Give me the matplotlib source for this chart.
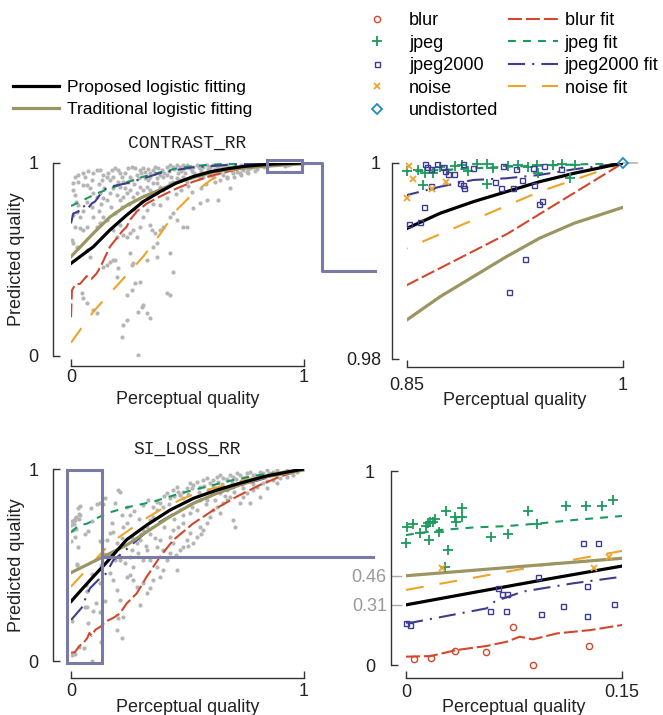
import matplotlib
matplotlib.use('Agg')
import numpy as np
import matplotlib.pyplot as plt
from matplotlib.lines import Line2D
from matplotlib.patches import Rectangle

plt.rcParams['font.family'] = ['Liberation Sans', 'DejaVu Sans']
plt.rcParams['font.size'] = 13

# ---------------- CONTRAST_RR ----------------
# fitted curves (x, y)
contrast_prop_x = [0, 0.096, 0.167, 0.239, 0.31, 0.38, 0.45, 0.525, 0.6, 0.67, 0.74, 0.81, 0.85, 0.873, 0.896, 0.919, 0.942, 0.966, 1.0]
contrast_prop_y = [0.48, 0.566, 0.653, 0.73, 0.80, 0.85, 0.895, 0.93, 0.955, 0.97, 0.982, 0.9895, 0.99333, 0.99487, 0.99605, 0.99707, 0.99809, 0.99895, 1.0]
contrast_trad_y = [0.515, 0.636, 0.72, 0.78, 0.825, 0.86, 0.898, 0.926, 0.95, 0.965, 0.975, 0.981, 0.984, 0.98636, 0.9884, 0.99044, 0.99232, 0.99385, 0.99548]

contrast_blur_fit_x = [0, 0.004, 0.017, 0.04, 0.067, 0.089, 0.11, 0.13, 0.153, 0.167, 0.196, 0.218, 0.239, 0.253, 0.282, 0.325, 0.38, 0.453, 0.525, 0.6, 0.67, 0.74, 0.81, 0.85, 0.92, 1.0]
contrast_blur_fit_y = [0.20, 0.34, 0.368, 0.375, 0.414, 0.40, 0.428, 0.47, 0.53, 0.566, 0.61, 0.644, 0.67, 0.705, 0.748, 0.79, 0.825, 0.868, 0.903, 0.933, 0.955, 0.972, 0.983, 0.98755, 0.9928, 1.0]
contrast_jpeg_fit_x = [0, 0.053, 0.11, 0.167, 0.239, 0.31, 0.38, 0.453, 0.525, 0.6, 0.74, 0.85, 0.919, 1.0]
contrast_jpeg_fit_y = [0.777, 0.808, 0.842, 0.868, 0.9, 0.929, 0.951, 0.972, 0.984, 0.992, 0.997, 0.99911, 0.99962, 1.0]
contrast_j2k_fit_x = [0, 0.01, 0.031, 0.053, 0.067, 0.089, 0.103, 0.139, 0.167, 0.239, 0.31, 0.38, 0.453, 0.525, 0.67, 0.81, 0.85, 0.873, 0.896, 0.919, 0.942, 0.966, 1.0]
contrast_j2k_fit_y = [0.687, 0.739, 0.748, 0.782, 0.756, 0.79, 0.80, 0.86, 0.877, 0.895, 0.92, 0.947, 0.964, 0.978, 0.99, 0.9955, 0.99673, 0.99758, 0.99827, 0.99844, 0.99878, 0.99936, 1.0]
contrast_noise_fit_x = [0, 0.039, 0.096, 0.167, 0.239, 0.31, 0.38, 0.453, 0.525, 0.6, 0.67, 0.74, 0.81, 0.85, 0.942, 1.0]
contrast_noise_fit_y = [0.069, 0.135, 0.23, 0.325, 0.42, 0.515, 0.627, 0.756, 0.843, 0.912, 0.955, 0.975, 0.986, 0.9913, 0.99707, 1.0]

# images inside the zoomed window (x >= 0.85, y >= 0.98)
contrast_jpeg_pts = [(0.8500, 0.99922), (0.8579, 0.99929), (0.8625, 0.99901), (0.8678, 0.99901), (0.8729, 0.99956),
                     (0.8775, 0.99929), (0.8833, 0.99969), (0.8880, 0.99976), (0.8926, 0.99922), (0.8984, 0.99990),
                     (0.9053, 0.99990), (0.9100, 0.99946), (0.9204, 0.99969), (0.9273, 0.99980), (0.9343, 0.99956),
                     (0.9412, 0.99901), (0.9516, 0.99980), (0.9574, 0.99986), (0.9632, 0.99844), (0.9667, 0.99980),
                     (0.9053, 0.99786), (0.8609, 0.99776), (0.9400, 0.99980)]
contrast_j2k_pts = [(0.8625, 0.99986), (0.8641, 0.99963), (0.8664, 0.99935), (0.8706, 0.99986), (0.8748, 0.99963),
                    (0.8764, 0.99922), (0.8787, 0.99884), (0.8826, 0.99884), (0.8887, 0.99986), (0.8956, 0.99952),
                    (0.9164, 0.99973), (0.9255, 0.99935), (0.9301, 0.99827), (0.9373, 0.99952), (0.9454, 0.99973),
                    (0.9567, 0.99935), (0.8664, 0.99765), (0.8868, 0.99793), (0.8887, 0.99776), (0.8896, 0.99741),
                    (0.9111, 0.99810), (0.9150, 0.99741), (0.9234, 0.99741), (0.9382, 0.99776), (0.9414, 0.99582),
                    (0.9440, 0.99616), (0.8620, 0.99554), (0.8516, 0.99378), (0.8590, 0.99401), (0.9319, 0.99020),
                    (0.9206, 0.98687)]
contrast_noise_pts = [(0.8516, 0.99969), (0.8544, 0.99837), (0.8500, 0.99646), (0.8671, 0.99731), (0.8771, 0.99810)]
contrast_blur_pts = []

# remaining images (all distortions)
contrast_rest = [
    (0.010, 0.895), (0.017, 0.929), (0.031, 0.938), (0.031, 0.903), (0.010, 0.860), (0.017, 0.834), (0.024, 0.748),
    (0.010, 0.731), (0.039, 0.722), (0.017, 0.670), (0.003, 0.601), (0.010, 0.584), (0.024, 0.566), (0.053, 0.886),
    (0.067, 0.886), (0.089, 0.912), (0.096, 0.946), (0.110, 0.964), (0.124, 0.964), (0.132, 0.912), (0.139, 0.938),
    (0.153, 0.929), (0.167, 0.912), (0.175, 0.964), (0.189, 0.972), (0.203, 0.964), (0.210, 0.946), (0.217, 0.929),
    (0.225, 0.903), (0.210, 0.877), (0.232, 0.869), (0.246, 0.903), (0.253, 0.929), (0.246, 0.972), (0.260, 0.981),
    (0.275, 0.972), (0.282, 0.938), (0.296, 0.964), (0.310, 0.972), (0.318, 0.955), (0.318, 0.921), (0.332, 0.912),
    (0.339, 0.946), (0.353, 0.964), (0.361, 0.981), (0.375, 0.972), (0.389, 0.964), (0.382, 0.938), (0.396, 0.929),
    (0.368, 0.895), (0.382, 0.877), (0.411, 0.981), (0.425, 0.990), (0.439, 0.981), (0.453, 0.990), (0.468, 0.981),
    (0.482, 0.990), (0.496, 0.990), (0.511, 0.972), (0.525, 0.981), (0.539, 0.990), (0.554, 0.972), (0.568, 0.981),
    (0.582, 0.990), (0.597, 0.981), (0.611, 0.990), (0.625, 0.984), (0.639, 0.990), (0.654, 0.981), (0.668, 0.990),
    (0.682, 0.981), (0.697, 0.972), (0.711, 0.981), (0.725, 0.972), (0.740, 0.984), (0.754, 0.978), (0.768, 0.981),
    (0.783, 0.990), (0.797, 0.984), (0.811, 0.990),
    (0.096, 0.843), (0.110, 0.826), (0.124, 0.843), (0.139, 0.817), (0.153, 0.808), (0.167, 0.843), (0.182, 0.869),
    (0.196, 0.834), (0.210, 0.808), (0.225, 0.826), (0.239, 0.843), (0.253, 0.860), (0.268, 0.826), (0.282, 0.843),
    (0.296, 0.877), (0.310, 0.860), (0.325, 0.877), (0.339, 0.860), (0.353, 0.895), (0.368, 0.843), (0.396, 0.860),
    (0.411, 0.877), (0.425, 0.895), (0.439, 0.903), (0.453, 0.921), (0.468, 0.912), (0.482, 0.929), (0.496, 0.903),
    (0.511, 0.921), (0.525, 0.929), (0.539, 0.938), (0.554, 0.921), (0.568, 0.929), (0.582, 0.946), (0.597, 0.938),
    (0.611, 0.929), (0.625, 0.946), (0.639, 0.955), (0.654, 0.938), (0.668, 0.929), (0.682, 0.869), (0.697, 0.946),
    (0.711, 0.955), (0.725, 0.946), (0.740, 0.964), (0.754, 0.955), (0.768, 0.972), (0.632, 0.808),
    (0.039, 0.661), (0.053, 0.653), (0.067, 0.670), (0.096, 0.722), (0.110, 0.670), (0.124, 0.687), (0.139, 0.722),
    (0.153, 0.705), (0.182, 0.653), (0.196, 0.618), (0.210, 0.679), (0.225, 0.627), (0.239, 0.618), (0.253, 0.636),
    (0.268, 0.653), (0.282, 0.618), (0.296, 0.670), (0.310, 0.722), (0.325, 0.756), (0.339, 0.679), (0.346, 0.653),
    (0.361, 0.636), (0.368, 0.584), (0.382, 0.653), (0.396, 0.670), (0.425, 0.722), (0.439, 0.739), (0.453, 0.705),
    (0.482, 0.670), (0.496, 0.670), (0.525, 0.765), (0.554, 0.791), (0.582, 0.808), (0.425, 0.532), (0.439, 0.437),
    (0.353, 0.566), (0.368, 0.515), (0.253, 0.532), (0.260, 0.472), (0.268, 0.480), (0.296, 0.385), (0.325, 0.497),
    (0.303, 0.256), (0.310, 0.264), (0.289, 0.230), (0.325, 0.221), (0.339, 0.195), (0.239, 0.187), (0.225, 0.161),
    (0.217, 0.100), (0.189, 0.497), (0.203, 0.454), (0.196, 0.411), (0.182, 0.497), (0.067, 0.549), (0.082, 0.515),
    (0.046, 0.325), (0.053, 0.299), (0.067, 0.273), (0.096, 0.238), (0.110, 0.221), (0.139, 0.463), (0.153, 0.472),
    (0.167, 0.489), (0.411, 0.325), (0.425, 0.316), (0.239, 0.316), (0.260, 0.342), (0.275, 0.377), (0.289, 0.005),
    (0.050, 0.950), (0.060, 0.930), (0.075, 0.960), (0.080, 0.870), (0.120, 0.890), (0.140, 0.870), (0.160, 0.950),
    (0.180, 0.930), (0.200, 0.900), (0.230, 0.950), (0.260, 0.910), (0.270, 0.890), (0.290, 0.920), (0.300, 0.950),
    (0.330, 0.970), (0.340, 0.930), (0.360, 0.950), (0.370, 0.920), (0.400, 0.950), (0.410, 0.940), (0.420, 0.960),
    (0.430, 0.930), (0.440, 0.970), (0.460, 0.950), (0.470, 0.960), (0.480, 0.970), (0.490, 0.950), (0.500, 0.980),
    (0.520, 0.960), (0.530, 0.950), (0.550, 0.980), (0.560, 0.960), (0.570, 0.950), (0.590, 0.970), (0.600, 0.960),
    (0.620, 0.970), (0.630, 0.980), (0.650, 0.970), (0.660, 0.960), (0.670, 0.980), (0.690, 0.960), (0.700, 0.990),
    (0.720, 0.980), (0.730, 0.990), (0.750, 0.990), (0.760, 0.970), (0.780, 0.980), (0.790, 0.990), (0.800, 0.970),
    (0.820, 0.990), (0.830, 0.980), (0.840, 0.990),
    (0.020, 0.800), (0.030, 0.780), (0.050, 0.750), (0.070, 0.800), (0.090, 0.770), (0.120, 0.750), (0.130, 0.790),
    (0.170, 0.770), (0.190, 0.740), (0.220, 0.770), (0.250, 0.790), (0.270, 0.760), (0.300, 0.800), (0.330, 0.820),
    (0.350, 0.790), (0.380, 0.780), (0.410, 0.820), (0.450, 0.840), (0.470, 0.860), (0.500, 0.880), (0.520, 0.850),
    (0.560, 0.870), (0.580, 0.890), (0.620, 0.900), (0.640, 0.910), (0.670, 0.920), (0.700, 0.930), (0.730, 0.940),
    (0.760, 0.950), (0.790, 0.960),
]

# ---------------- SI_LOSS_RR ----------------
si_prop_x = [0, 0.05, 0.10, 0.15, 0.239, 0.325, 0.425, 0.525, 0.625, 0.725, 0.84, 0.954, 1.0]
si_prop_y = [0.31, 0.378, 0.445, 0.51, 0.632, 0.708, 0.786, 0.847, 0.89, 0.926, 0.964, 0.99, 1.0]
si_trad_x = [0, 0.05, 0.10, 0.15, 0.239, 0.325, 0.425, 0.525, 0.625, 0.725, 0.84, 1.0]
si_trad_y = [0.46, 0.49, 0.52, 0.55, 0.604, 0.673, 0.752, 0.821, 0.873, 0.917, 0.96, 0.995]

si_blur_fit_x = [0, 0.017, 0.035, 0.056, 0.07, 0.079, 0.088, 0.105, 0.128, 0.15, 0.182, 0.21, 0.239, 0.282, 0.325, 0.382, 0.439, 0.525, 0.611, 0.711, 0.811, 0.897, 1.0]
si_blur_fit_y = [0.043, 0.046, 0.077, 0.098, 0.12, 0.146, 0.132, 0.163, 0.18, 0.206, 0.225, 0.248, 0.3, 0.352, 0.439, 0.543, 0.63, 0.717, 0.786, 0.856, 0.917, 0.96, 1.0]
si_jpeg_fit_x = [0, 0.024, 0.047, 0.07, 0.093, 0.116, 0.15, 0.239, 0.353, 0.468, 0.582, 0.697, 0.811, 0.926, 1.0]
si_jpeg_fit_y = [0.670, 0.696, 0.709, 0.716, 0.73, 0.747, 0.768, 0.80, 0.83, 0.873, 0.908, 0.943, 0.969, 0.986, 1.0]
si_j2k_fit_x = [0, 0.005, 0.056, 0.062, 0.068, 0.081, 0.116, 0.15, 0.182, 0.21, 0.267, 0.325, 0.382, 0.468, 0.554, 0.668, 0.782, 0.883, 1.0]
si_j2k_fit_y = [0.218, 0.22, 0.292, 0.33, 0.344, 0.378, 0.421, 0.455, 0.526, 0.552, 0.613, 0.673, 0.725, 0.786, 0.839, 0.89, 0.934, 0.969, 1.0]
si_noise_fit_x = [0, 0.05, 0.10, 0.15, 0.182, 0.239, 0.31, 0.382, 0.468, 0.554, 0.668, 0.782, 0.883, 1.0]
si_noise_fit_y = [0.387, 0.454, 0.521, 0.588, 0.625, 0.673, 0.734, 0.786, 0.839, 0.882, 0.917, 0.951, 0.98, 1.0]

# images inside the zoomed window (x <= 0.15)
si_jpeg_pts = [(0.000, 0.627), (0.001, 0.710), (0.005, 0.727), (0.010, 0.682), (0.014, 0.716), (0.015, 0.734),
               (0.016, 0.644), (0.017, 0.736), (0.019, 0.739), (0.020, 0.751), (0.023, 0.687), (0.027, 0.504),
               (0.028, 0.795), (0.029, 0.593), (0.034, 0.764), (0.035, 0.739), (0.039, 0.808), (0.039, 0.761),
               (0.059, 0.661), (0.071, 0.675), (0.085, 0.795), (0.091, 0.727), (0.111, 0.820), (0.125, 0.821),
               (0.136, 0.820), (0.144, 0.851)]
si_j2k_pts = [(0.000, 0.215), (0.0025, 0.206), (0.0642, 0.395), (0.0669, 0.366), (0.0704, 0.366), (0.0584, 0.280),
              (0.0692, 0.280), (0.0916, 0.455), (0.0939, 0.263), (0.1087, 0.304), (0.1230, 0.627), (0.1334, 0.630),
              (0.1258, 0.407), (0.1258, 0.253), (0.1445, 0.313)]
si_blur_pts = [(0.0058, 0.029), (0.0175, 0.034), (0.0337, 0.074), (0.0554, 0.069), (0.0741, 0.197), (0.0884, 0.0),
               (0.1269, 0.100)]
si_noise_pts = [(0.0249, 0.498), (0.1306, 0.501), (0.1410, 0.558)]

si_rest = [
    (0.153, 0.630), (0.167, 0.665), (0.175, 0.717), (0.182, 0.674), (0.203, 0.891), (0.210, 0.882), (0.189, 0.821),
    (0.196, 0.613), (0.217, 0.639), (0.225, 0.700), (0.239, 0.717), (0.253, 0.760), (0.260, 0.648), (0.282, 0.613),
    (0.296, 0.630), (0.310, 0.682), (0.325, 0.700), (0.339, 0.734), (0.353, 0.752), (0.368, 0.786), (0.382, 0.821),
    (0.396, 0.804), (0.411, 0.873), (0.425, 0.847), (0.439, 0.891), (0.453, 0.908), (0.468, 0.865), (0.482, 0.882),
    (0.496, 0.899), (0.511, 0.925), (0.525, 0.917), (0.539, 0.934), (0.554, 0.908), (0.568, 0.943), (0.582, 0.951),
    (0.597, 0.925), (0.611, 0.943), (0.625, 0.960), (0.639, 0.969), (0.654, 0.951), (0.668, 0.943), (0.682, 0.969),
    (0.697, 0.960), (0.711, 0.977), (0.725, 0.969), (0.740, 0.951), (0.754, 0.977), (0.768, 0.986), (0.783, 0.969),
    (0.797, 0.960), (0.811, 0.986), (0.825, 0.977), (0.840, 0.995), (0.854, 0.969), (0.868, 0.986), (0.883, 0.995),
    (0.897, 0.977), (0.911, 0.986), (0.926, 0.995), (0.940, 0.986), (0.954, 0.995),
    (0.167, 0.457), (0.182, 0.422), (0.196, 0.370), (0.210, 0.318), (0.217, 0.118), (0.196, 0.161), (0.203, 0.222),
    (0.225, 0.231), (0.239, 0.439), (0.253, 0.448), (0.268, 0.422), (0.282, 0.387), (0.296, 0.292), (0.310, 0.405),
    (0.325, 0.352), (0.339, 0.378), (0.353, 0.422), (0.368, 0.491), (0.382, 0.439), (0.396, 0.474), (0.411, 0.526),
    (0.425, 0.561), (0.439, 0.613), (0.453, 0.474), (0.468, 0.578), (0.482, 0.595), (0.496, 0.630), (0.511, 0.665),
    (0.525, 0.613), (0.539, 0.648), (0.554, 0.700), (0.568, 0.682), (0.582, 0.717), (0.597, 0.752), (0.611, 0.786),
    (0.625, 0.804), (0.639, 0.769), (0.654, 0.821), (0.668, 0.839), (0.682, 0.856), (0.697, 0.734), (0.704, 0.700),
    (0.725, 0.821), (0.740, 0.856), (0.754, 0.873), (0.768, 0.821), (0.783, 0.891), (0.797, 0.908), (0.811, 0.856),
    (0.825, 0.925), (0.840, 0.899), (0.868, 0.943), (0.883, 0.925), (0.897, 0.951), (0.926, 0.960), (0.954, 0.969),
    (0.969, 0.986),
    (0.167, 0.552), (0.189, 0.526), (0.210, 0.526), (0.232, 0.509), (0.253, 0.543), (0.268, 0.491), (0.289, 0.561),
    (0.310, 0.526), (0.325, 0.578), (0.339, 0.526), (0.368, 0.595), (0.382, 0.630), (0.396, 0.578), (0.425, 0.648),
    (0.439, 0.682), (0.461, 0.700), (0.482, 0.717), (0.511, 0.769), (0.539, 0.786), (0.554, 0.839), (0.582, 0.839),
    (0.611, 0.873), (0.639, 0.873), (0.668, 0.891),
    (0.220, 0.760), (0.240, 0.800), (0.270, 0.780), (0.290, 0.740), (0.310, 0.810), (0.330, 0.840), (0.350, 0.800),
    (0.370, 0.830), (0.400, 0.860), (0.420, 0.820), (0.440, 0.860), (0.460, 0.880), (0.480, 0.850), (0.500, 0.870),
    (0.520, 0.900), (0.550, 0.880), (0.570, 0.910), (0.590, 0.890), (0.610, 0.910), (0.630, 0.930), (0.650, 0.920),
    (0.670, 0.950), (0.690, 0.930), (0.710, 0.950), (0.730, 0.940), (0.750, 0.960), (0.770, 0.950), (0.790, 0.970),
    (0.810, 0.960), (0.850, 0.980), (0.880, 0.970), (0.910, 0.980), (0.300, 0.660), (0.340, 0.660), (0.400, 0.700),
    (0.440, 0.740), (0.480, 0.760), (0.520, 0.800), (0.580, 0.820), (0.620, 0.840), (0.660, 0.860), (0.700, 0.880),
    (0.740, 0.900), (0.780, 0.920), (0.840, 0.940), (0.260, 0.580), (0.320, 0.600), (0.360, 0.640), (0.450, 0.550),
    (0.500, 0.600), (0.560, 0.660),
]

undistorted = (1.0, 1.0)

# ---------------- styles ----------------
GRAY = '#b5b5b5'
BOX = '#7a7aa6'
COL = {'blur': '#d3472c', 'jpeg': '#1a9b5c', 'jpeg2000': '#3d3c8f', 'noise': '#eea32a',
       'undistorted': '#1f8ac5', 'prop': 'black', 'trad': '#9b9563'}
DASH = {'blur': (6.7, 1.9), 'jpeg': (3.8, 3.4), 'jpeg2000': (8.2, 3.4, 1.0, 3.4), 'noise': (8.6, 7.7)}
MARK = {'blur': dict(marker='o', ms=4.5, mew=1.0, mfc='none'),
        'jpeg': dict(marker='+', ms=6.5, mew=1.3),
        'jpeg2000': dict(marker='s', ms=3.6, mew=1.0, mfc='none'),
        'noise': dict(marker='x', ms=4.5, mew=1.3),
        'undistorted': dict(marker='D', ms=5, mew=1.3, mfc='none')}
KINDS = ['blur', 'jpeg', 'jpeg2000', 'noise']

contrast_fits = {'blur': (contrast_blur_fit_x, contrast_blur_fit_y), 'jpeg': (contrast_jpeg_fit_x, contrast_jpeg_fit_y),
                 'jpeg2000': (contrast_j2k_fit_x, contrast_j2k_fit_y), 'noise': (contrast_noise_fit_x, contrast_noise_fit_y)}
si_fits = {'blur': (si_blur_fit_x, si_blur_fit_y), 'jpeg': (si_jpeg_fit_x, si_jpeg_fit_y),
           'jpeg2000': (si_j2k_fit_x, si_j2k_fit_y), 'noise': (si_noise_fit_x, si_noise_fit_y)}
contrast_pts = {'blur': contrast_blur_pts, 'jpeg': contrast_jpeg_pts, 'jpeg2000': contrast_j2k_pts, 'noise': contrast_noise_pts}
si_pts = {'blur': si_blur_pts, 'jpeg': si_jpeg_pts, 'jpeg2000': si_j2k_pts, 'noise': si_noise_pts}


def draw_fits(ax, fits, prop, trad):
    for k in KINDS:
        ax.plot(fits[k][0], fits[k][1], color=COL[k], lw=1.5, dashes=DASH[k], zorder=3)
    ax.plot(trad[0], trad[1], color=COL['trad'], lw=2.3, zorder=4)
    ax.plot(prop[0], prop[1], color=COL['prop'], lw=2.3, zorder=5)


def draw_cloud(ax, rest, pts):
    allpts = list(rest) + [p for k in KINDS for p in pts[k]] + [undistorted]
    a = np.array(allpts)
    ax.scatter(a[:, 0], a[:, 1], s=9, color=GRAY, linewidths=0, zorder=1)


def draw_points(ax, pts, with_undist=False):
    for k in KINDS:
        if not pts[k]:
            continue
        a = np.array(pts[k])
        ax.plot(a[:, 0], a[:, 1], ls='none', color=COL[k], mec=COL[k], clip_on=False, zorder=6, **MARK[k])
    if with_undist:
        ax.plot([undistorted[0]], [undistorted[1]], ls='none', color=COL['undistorted'], mec=COL['undistorted'],
                clip_on=False, zorder=7, **MARK['undistorted'])


def style(ax, xlim, ylim, left_off, bottom_off, xpad, ypad):
    ax.set_xlim(*xlim)
    ax.set_ylim(*ylim)
    ax.set_facecolor('none')
    for s in ['top', 'right']:
        ax.spines[s].set_visible(False)
    for s in ['left', 'bottom']:
        ax.spines[s].set_color('#333333')
        ax.spines[s].set_linewidth(1.0)
    ax.spines['left'].set_position(('outward', left_off))
    ax.spines['bottom'].set_position(('outward', bottom_off))
    ax.spines['left'].set_bounds(*ylim)
    ax.spines['bottom'].set_bounds(*xlim)
    ax.set_xticks(list(xlim))
    ax.set_yticks(list(ylim))
    ax.set_xticklabels(['%g' % v for v in xlim])
    ax.set_yticklabels(['%g' % v for v in ylim])
    ax.tick_params(direction='in', length=5, width=1, color='#333333', labelcolor='#222222', labelsize=13)
    ax.tick_params(axis='x', pad=xpad)
    ax.tick_params(axis='y', pad=ypad)


W, H = 663, 715
fig = plt.figure(figsize=(W / 100, H / 100), dpi=100)

ax1 = fig.add_axes([71 / W, 1 - 356 / H, 233 / W, 193 / H])
ax2 = fig.add_axes([407 / W, 1 - 359 / H, 216 / W, 196 / H])
ax3 = fig.add_axes([71 / W, 1 - 661 / H, 233 / W, 192 / H])
ax4 = fig.add_axes([406 / W, 1 - 665 / H, 216 / W, 194 / H])

# overview panels
draw_cloud(ax1, contrast_rest, contrast_pts)
draw_fits(ax1, contrast_fits, (contrast_prop_x, contrast_prop_y), (contrast_prop_x, contrast_trad_y))
style(ax1, (0, 1), (0, 1), 13, 7.2, 2.5, 10.5)

draw_cloud(ax3, si_rest, si_pts)
draw_fits(ax3, si_fits, (si_prop_x, si_prop_y), (si_trad_x, si_trad_y))
style(ax3, (0, 1), (0, 1), 13, 12.2, 3.5, 10.5)

for ax, title in [(ax1, 'CONTRAST_RR'), (ax3, 'SI_LOSS_RR')]:
    ax.text(0.5, 1.10, title, transform=ax.transAxes, ha='center', va='center',
            family='Liberation Mono', fontsize=13, color='#222222')
    ax.set_ylabel('Predicted quality', fontsize=13, color='#222222')
    ax.yaxis.set_label_coords(-0.197, 0.5)

# zoomed panels
draw_fits(ax2, contrast_fits, (contrast_prop_x, contrast_prop_y), (contrast_prop_x, contrast_trad_y))
draw_points(ax2, contrast_pts, with_undist=True)
style(ax2, (0.85, 1), (0.98, 1), 10.8, 5.8, 7.0, 8.0)
ax2.plot([undistorted[0], 1.01], [undistorted[1], undistorted[1]], color='#bbbbbb', lw=1.3, clip_on=False, zorder=2)

draw_fits(ax4, si_fits, (si_prop_x, si_prop_y), (si_trad_x, si_trad_y))
draw_points(ax4, si_pts)
style(ax4, (0, 0.15), (0, 1), 10.8, 9.4, 4.0, 11.5)

# intercepts of the two logistic fits
y_prop0, y_trad0 = si_prop_y[0], si_trad_y[0]
ax4.set_yticks([y_prop0, y_trad0], minor=True)
ax4.set_yticklabels(['%.2f' % y_prop0, '%.2f' % y_trad0], minor=True)
ax4.tick_params(axis='y', which='minor', direction='in', length=8, width=1, color='#aaaaaa',
                labelcolor='#999999', labelsize=13, pad=3)

for ax, ly in [(ax1, -0.182), (ax2, -0.168), (ax3, -0.196), (ax4, -0.174)]:
    ax.set_xlabel('Perceptual quality', fontsize=13, color='#222222')
    ax.xaxis.set_label_coords(0.5, ly)

# zoom boxes and connectors
ax1.add_patch(Rectangle((0.843, 0.955), 0.15, 0.061, fill=False, ec=BOX, lw=2.2, clip_on=False, zorder=8))
ax3.add_patch(Rectangle((-0.017, -0.009), 0.15, 1.004, fill=False, ec=BOX, lw=2.2, clip_on=False, zorder=8))

inv = fig.transFigure.inverted()
p0 = inv.transform(ax1.transData.transform((0.993, 1.0)))
p1 = inv.transform(ax1.transData.transform((1.077, 1.0)))
p3 = inv.transform(ax2.transAxes.transform((-0.148, 0.449)))
fig.add_artist(Line2D([p0[0], p1[0], p1[0], p3[0]], [p0[1], p1[1], p3[1], p3[1]],
                      transform=fig.transFigure, color=BOX, lw=2.2))
q0 = inv.transform(ax3.transData.transform((0.133, 0.542)))
q1 = inv.transform(ax4.transAxes.transform((-0.153, 0.0)))
fig.add_artist(Line2D([q0[0], q1[0]], [q0[1], q0[1]], transform=fig.transFigure, color=BOX, lw=2.2))

# legends
pt_handles = [Line2D([], [], ls='none', color=COL[k], mec=COL[k], **MARK[k]) for k in KINDS + ['undistorted']]
fit_handles = [Line2D([], [], color=COL[k], lw=1.5, dashes=DASH[k]) for k in KINDS]
fig.legend(pt_handles + fit_handles,
           ['blur', 'jpeg', 'jpeg2000', 'noise', 'undistorted', 'blur fit', 'jpeg fit', 'jpeg2000 fit', 'noise fit'],
           loc='upper left', bbox_to_anchor=(352 / W, 1 - 12 / H), ncol=2, frameon=False, fontsize=13,
           handlelength=2.77, handletextpad=0.4, columnspacing=0.5, labelspacing=0.31,
           borderpad=0, borderaxespad=0, numpoints=1)

fig.legend([Line2D([], [], color=COL['prop'], lw=2.3), Line2D([], [], color=COL['trad'], lw=2.3)],
           ['Proposed logistic fitting', 'Traditional logistic fitting'],
           loc='upper left', bbox_to_anchor=(13 / W, 1 - 80 / H), frameon=False, fontsize=12.5,
           handlelength=2.65, handletextpad=0.46, labelspacing=0.38, borderpad=0, borderaxespad=0)

fig.savefig('out.png', dpi=100)
